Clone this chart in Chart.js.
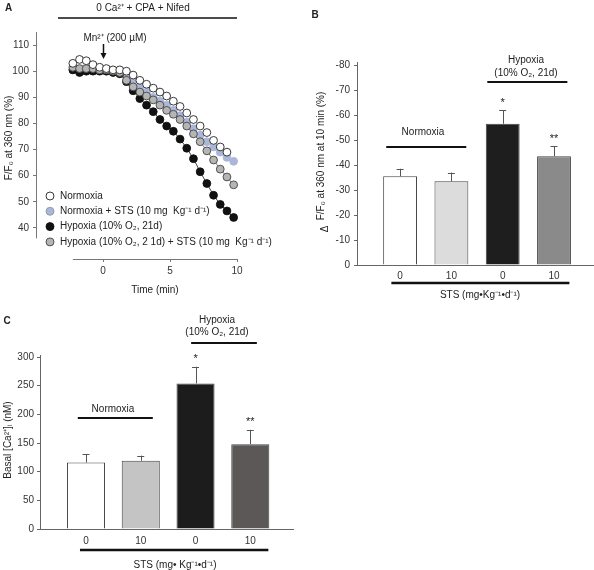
<!DOCTYPE html>
<html>
<head>
<meta charset="utf-8">
<script src="https://cdn.jsdelivr.net/npm/chart.js@4.4.1/dist/chart.umd.min.js"></script>
<style>
  body { margin: 0; background: #fff; }
  #wrap { position: relative; width: 594px; height: 570px; overflow: hidden; }
  canvas { position: absolute; }
</style>
</head>
<body>
<div id="wrap">
  <canvas id="panelA" width="300" height="300" style="left:0;top:0"></canvas>
  <canvas id="panelB" width="294" height="310" style="left:300px;top:0"></canvas>
  <canvas id="panelC" width="300" height="270" style="left:0;top:300px"></canvas>
</div>
<script>
// ---- panel A: Mn2+ quench time course ----
const timeMin = [-2.25, -1.75, -1.25, -0.75, -0.25, 0.25, 0.75, 1.25, 1.75, 2.25, 2.75, 3.25, 3.75,
                 4.25, 4.75, 5.25, 5.75, 6.25, 6.75, 7.25, 7.75, 8.25, 8.75, 9.25, 9.75];
const normoxia     = [103, 104.5, 104, 102.5, 101.5, 101, 100.5, 100.5, 100, 98.5, 96.5, 95, 93.5,
                      92, 90.5, 88.5, 86.5, 84, 81.5, 79, 76.5, 73.5, 71, 69, null];
const normoxiaSTS  = [100.5, 100, 100, 100.5, 100.5, 100, 100, 99.5, 98.5, 96.5, 94, 92, 90,
                      88.5, 87, 85, 83, 80.5, 78, 75.5, 73, 71, 69, 67, 65.5];
const hypoxia      = [100.5, 99.5, 100, 100, 100, 100, 99.5, 99, 96, 92.5, 89.5, 87, 84.5,
                      81.5, 79, 77, 74, 70.5, 66.5, 61.5, 57, 52.5, 49, 46.5, 44];
const hypoxiaSTS   = [101.5, 101, 101, 101, 100.5, 100.5, 100, 99.5, 96.5, 94, 92, 90.5, 89,
                      87, 85, 83.5, 81.5, 79, 76, 73, 69.5, 66, 62.5, 59.5, 56.5];
const seriesNames  = ['Normoxia', 'Normoxia + STS (10 mg  Kg\u207B\u00B9 d\u207B\u00B9)',
                      'Hypoxia (10% O\u2082, 21d)', 'Hypoxia (10% O\u2082, 2 1d) + STS (10 mg  Kg\u207B\u00B9 d\u207B\u00B9)'];
const yTicksA = [40, 50, 60, 70, 80, 90, 100, 110];
const xTicksA = [0, 5, 10];

// ---- panel B: quench at 10 min ----
const doseLabels = ['0', '10', '0', '10'];
const quench10   = [-35.5, -33.5, -56.5, -43.5];
const quenchErr  = [3, 3.5, 5.5, 4];
const yTicksB = [0, -10, -20, -30, -40, -50, -60, -70, -80];

// ---- panel C: basal [Ca2+]i ----
const basalCa    = [116, 119, 254, 148];
const basalErr   = [14, 9, 29, 25];
const yTicksC = [0, 50, 100, 150, 200, 250, 300];

const FONT = "'Liberation Sans', Arial, Helvetica, sans-serif";
Chart.defaults.font.family = FONT;
Chart.defaults.font.size = 10;
Chart.defaults.color = '#222';
Chart.defaults.animation = false;
Chart.defaults.plugins.legend.display = false;
Chart.defaults.plugins.tooltip.enabled = false;

function label(ctx, text, x, y, o = {}) {
  ctx.save();
  ctx.font = (o.bold ? 'bold ' : '') + (o.size || 10) + 'px ' + FONT;
  ctx.fillStyle = o.color || '#222';
  ctx.textAlign = o.align || 'center';
  ctx.textBaseline = o.base || 'middle';
  ctx.translate(x, y);
  if (o.rotate) ctx.rotate(o.rotate);
  ctx.fillText(text, 0, 0);
  ctx.restore();
}
function hline(ctx, x1, x2, y, w, color) {
  ctx.save();
  ctx.strokeStyle = color || '#111';
  ctx.lineWidth = w || 2;
  ctx.beginPath();
  ctx.moveTo(x1, y);
  ctx.lineTo(x2, y);
  ctx.stroke();
  ctx.restore();
}
const ticksFrom = list => scale => { scale.ticks = list.map(v => ({ value: v })); };

// error bars drawn from the data through the y scale
const errorBars = {
  id: 'errorBars',
  afterDatasetsDraw(chart) {
    const { ctx } = chart;
    const y = chart.scales.y;
    chart.data.datasets.forEach((ds, di) => {
      if (!ds.errors) return;
      chart.getDatasetMeta(di).data.forEach((bar, i) => {
        const v = ds.data[i].y;
        const end = y.getPixelForValue(v + Math.sign(v) * ds.errors[i]);
        ctx.save();
        ctx.strokeStyle = '#555';
        ctx.lineWidth = 1;
        ctx.beginPath();
        ctx.moveTo(Math.round(bar.x) + 0.5, bar.y);
        ctx.lineTo(Math.round(bar.x) + 0.5, end);
        ctx.moveTo(bar.x - 3.5, Math.round(end) + 0.5);
        ctx.lineTo(bar.x + 3.5, Math.round(end) + 0.5);
        ctx.stroke();
        ctx.restore();
        if (ds.stars && ds.stars[i]) {
          label(ctx, ds.stars[i], bar.x, end - 2, { size: 11, base: 'bottom' });
        }
      });
    });
  }
};

// ---------------- Panel A ----------------
const markerStyles = [
  { fill: '#ffffff', edge: '#222222' },
  { fill: '#aab7d9', edge: '#aab7d9' },
  { fill: '#111111', edge: '#111111' },
  { fill: '#b5b5b5', edge: '#444444' }
];
const seriesA = [normoxia, normoxiaSTS, hypoxia, hypoxiaSTS];
const drawOrder = [0, 3, 2, 1];

const panelAExtras = {
  id: 'panelAExtras',
  afterDraw(chart) {
    const { ctx, chartArea: ca, scales: { x, y } } = chart;
    // detached axes
    ctx.save();
    ctx.strokeStyle = '#777';
    ctx.lineWidth = 1;
    ctx.beginPath();
    ctx.moveTo(ca.left + 0.5, ca.top);
    ctx.lineTo(ca.left + 0.5, y.getPixelForValue(36));
    ctx.moveTo(x.getPixelForValue(timeMin[0]), ca.bottom + 0.5);
    ctx.lineTo(ca.right, ca.bottom + 0.5);
    ctx.stroke();
    ctx.restore();

    label(ctx, 'A', 5, 8, { bold: true, align: 'left' });
    label(ctx, '0 Ca\u00B2\u207A + CPA + Nifed', 143, 8);
    hline(ctx, 58, 237, 18, 1.5);
    label(ctx, 'Mn\u00B2\u207A (200 \u00B5M)', 115, 38);
    // arrow at t = 0
    const ax = Math.round(x.getPixelForValue(0)) + 0.5;
    ctx.save();
    ctx.strokeStyle = '#111';
    ctx.fillStyle = '#111';
    ctx.lineWidth = 1.5;
    ctx.beginPath(); ctx.moveTo(ax, 44); ctx.lineTo(ax, 54); ctx.stroke();
    ctx.beginPath(); ctx.moveTo(ax - 3, 53); ctx.lineTo(ax + 3, 53); ctx.lineTo(ax, 59); ctx.closePath(); ctx.fill();
    ctx.restore();

    label(ctx, 'Time (min)', 155, 290);
    label(ctx, 'F/F\u2080 at 360 nm (%)', 9, 138, { rotate: -Math.PI / 2 });

    // legend
    seriesNames.forEach((name, i) => {
      const ly = 196 + i * 15.3;
      ctx.save();
      ctx.beginPath();
      ctx.arc(50, ly, 4, 0, Math.PI * 2);
      ctx.fillStyle = markerStyles[i].fill;
      ctx.fill();
      ctx.strokeStyle = i === 1 ? '#8d96ad' : markerStyles[i].edge;
      ctx.lineWidth = 0.9;
      ctx.stroke();
      ctx.restore();
      label(ctx, name, 60, ly, { align: 'left' });
    });
  }
};

new Chart(document.getElementById('panelA'), {
  type: 'scatter',
  data: {
    datasets: seriesA.map((vals, i) => ({
      label: seriesNames[i],
      data: timeMin.map((t, k) => ({ x: t, y: vals[k] })),
      order: drawOrder[i],
      showLine: i === 2 || i === 3,
      borderColor: i === 2 ? '#111' : '#555',
      borderWidth: 0.8,
      pointRadius: 3.9,
      pointBorderWidth: 0.9,
      pointBackgroundColor: markerStyles[i].fill,
      pointBorderColor: markerStyles[i].edge,
      spanGaps: false
    }))
  },
  options: {
    responsive: false,
    clip: false,
    layout: { padding: { left: 0, top: 32, right: 63, bottom: 11 } },
    scales: {
      x: {
        type: 'linear', min: -5, max: 10,
        afterBuildTicks: ticksFrom(xTicksA),
        afterFit: s => { s.height = 30; },
        grid: { drawOnChartArea: false, tickLength: 3, color: '#777' },
        border: { display: false },
        ticks: { padding: 3, color: '#333' }
      },
      y: {
        min: 28.1, max: 115,
        afterBuildTicks: ticksFrom(yTicksA),
        afterFit: s => { s.width = 36; },
        grid: { drawOnChartArea: false, tickLength: 3, color: '#777' },
        border: { display: false },
        ticks: { padding: 4, color: '#333' }
      }
    }
  },
  plugins: [panelAExtras]
});

// ---------------- Panel B ----------------
const panelBExtras = {
  id: 'panelBExtras',
  afterDraw(chart) {
    const { ctx, scales: { x } } = chart;
    label(ctx, 'B', 15, 15, { bold: true });
    label(ctx, 'Hypoxia', 226, 60);
    label(ctx, '(10% O\u2082, 21d)', 226, 73);
    hline(ctx, x.getPixelForValue(2.7), x.getPixelForValue(4.26), 82, 2);
    label(ctx, 'Normoxia', 123, 132);
    hline(ctx, x.getPixelForValue(0.73), x.getPixelForValue(2.29), 147, 2);
    hline(ctx, x.getPixelForValue(0.83), x.getPixelForValue(4.3), 283, 2.5);
    label(ctx, 'STS (mg\u2022Kg\u207B\u00B9\u2022d\u207B\u00B9)', 180, 295);
    label(ctx, 'F/F\u2080 at 360 nm at 10 min (%)', 21, 156, { rotate: -Math.PI / 2 });
    label(ctx, '\u0394', 25, 229, { rotate: -Math.PI / 2 });
  }
};

new Chart(document.getElementById('panelB'), {
  type: 'bar',
  data: {
    datasets: [{
      data: quench10.map((v, i) => ({ x: i + 1, y: v })),
      errors: quenchErr,
      stars: ['', '', '*', '**'],
      backgroundColor: ['#ffffff', '#dcdcdc', '#1e1e1e', '#8a8a8a'],
      borderColor: '#444',
      borderWidth: 1,
      categoryPercentage: 1,
      barPercentage: 0.66
    }]
  },
  options: {
    responsive: false,
    layout: { padding: { left: 0, top: 62, right: 1, bottom: 10 } },
    scales: {
      x: {
        type: 'linear', min: 0.16, max: 4.76, offset: false,
        afterBuildTicks: ticksFrom(doseLabels.map((_, i) => i + 1)),
        afterFit: s => { s.height = 35; },
        grid: { display: false, drawTicks: false },
        border: { color: '#666' },
        ticks: { padding: 5, color: '#333', autoSkip: false, callback: v => doseLabels[v - 1] }
      },
      y: {
        reverse: true, min: -81.2, max: 0,
        afterBuildTicks: ticksFrom(yTicksB),
        afterFit: s => { s.width = 57; },
        grid: { drawOnChartArea: false, tickLength: 3, color: '#666' },
        border: { color: '#666' },
        ticks: { padding: 4, color: '#333' }
      }
    }
  },
  plugins: [errorBars, panelBExtras]
});

// ---------------- Panel C ----------------
const panelCExtras = {
  id: 'panelCExtras',
  afterDraw(chart) {
    const { ctx, scales: { x } } = chart;
    label(ctx, 'C', 7, 21, { bold: true });
    label(ctx, 'Hypoxia', 217, 20);
    label(ctx, '(10% O\u2082, 21d)', 217, 32);
    hline(ctx, x.getPixelForValue(2.92), x.getPixelForValue(4.12), 43, 2);
    label(ctx, 'Normoxia', 113, 109);
    hline(ctx, x.getPixelForValue(0.85), x.getPixelForValue(2.22), 118, 2);
    hline(ctx, x.getPixelForValue(0.89), x.getPixelForValue(4.33), 250, 2.5);
    label(ctx, 'STS (mg\u2022 Kg\u207B\u00B9\u2022d\u207B\u00B9)', 175, 265);
    label(ctx, 'Basal [Ca\u00B2\u207A]\u1D62 (nM)', 8, 140, { rotate: -Math.PI / 2 });
  }
};

new Chart(document.getElementById('panelC'), {
  type: 'bar',
  data: {
    datasets: [{
      data: basalCa.map((v, i) => ({ x: i + 1, y: v })),
      errors: basalErr,
      stars: ['', '', '*', '**'],
      backgroundColor: ['#ffffff', '#c4c4c4', '#1c1c1c', '#5c5858'],
      borderColor: '#444',
      borderWidth: 1,
      categoryPercentage: 1,
      barPercentage: 0.695
    }]
  },
  options: {
    responsive: false,
    layout: { padding: { left: 0, top: 55, right: 7, bottom: 6 } },
    scales: {
      x: {
        type: 'linear', min: 0.16, max: 4.78, offset: false,
        afterBuildTicks: ticksFrom(doseLabels.map((_, i) => i + 1)),
        afterFit: s => { s.height = 35; },
        grid: { display: false, drawTicks: false },
        border: { color: '#666' },
        ticks: { padding: 6, color: '#333', autoSkip: false, callback: v => doseLabels[v - 1] }
      },
      y: {
        min: 0, max: 303.5,
        afterBuildTicks: ticksFrom(yTicksC),
        afterFit: s => { s.width = 40; },
        grid: { drawOnChartArea: false, tickLength: 3, color: '#666' },
        border: { color: '#666' },
        ticks: { padding: 3, color: '#333' }
      }
    }
  },
  plugins: [errorBars, panelCExtras]
});
</script>
</body>
</html>
